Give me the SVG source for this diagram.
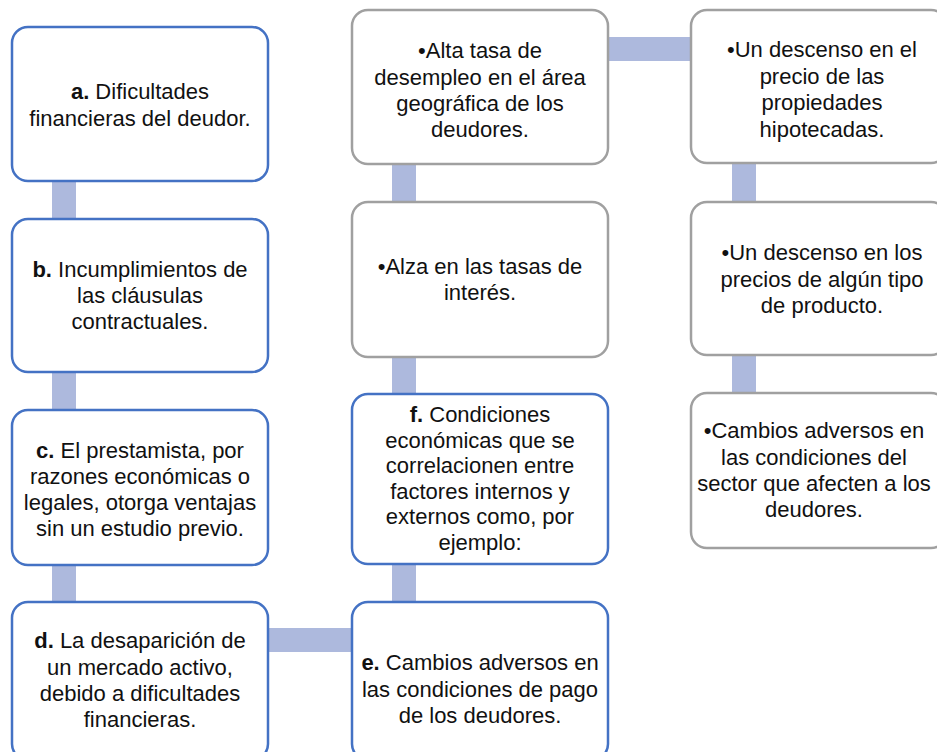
<svg xmlns="http://www.w3.org/2000/svg" width="937" height="752" viewBox="0 0 937 752">
<style>
.box{fill:#fff;stroke-width:2.5}
.blue{stroke:#4472C4}
.gray{stroke:#A0A0A0}
.bar{fill:#ADB9DD}
text{font-family:"Liberation Sans",Arial,sans-serif;font-size:22px;fill:#111;text-anchor:middle}
.b{font-weight:bold}
</style>
<rect width="937" height="752" fill="#fff"/>
<g id="connectors">
<rect class="bar" x="52" y="178" width="24" height="44"/>
<rect class="bar" x="52" y="369" width="24" height="44"/>
<rect class="bar" x="52" y="562" width="24" height="43"/>
<rect class="bar" x="265" y="628" width="90" height="24"/>
<rect class="bar" x="392" y="561" width="24" height="44"/>
<rect class="bar" x="392" y="354" width="24" height="43"/>
<rect class="bar" x="392" y="161" width="24" height="44"/>
<rect class="bar" x="605" y="37" width="89" height="24"/>
<rect class="bar" x="732" y="160" width="24" height="45"/>
<rect class="bar" x="732" y="352" width="24" height="44"/>
</g>
<g id="node-a">
<rect class="box blue" x="12" y="27" width="256" height="154" rx="16"/>
<text x="140" y="99"><tspan class="b">a.</tspan> Dificultades</text>
<text x="140" y="126">financieras del deudor.</text>
</g>
<g id="node-b">
<rect class="box blue" x="12" y="219" width="256" height="153" rx="16"/>
<text x="140" y="277"><tspan class="b">b.</tspan> Incumplimientos de</text>
<text x="140" y="303">las cláusulas</text>
<text x="140" y="329">contractuales.</text>
</g>
<g id="node-c">
<rect class="box blue" x="12" y="410" width="256" height="155" rx="16"/>
<text x="140" y="458"><tspan class="b">c.</tspan> El prestamista, por</text>
<text x="140" y="484">razones económicas o</text>
<text x="140" y="510">legales, otorga ventajas</text>
<text x="140" y="536">sin un estudio previo.</text>
</g>
<g id="node-d">
<rect class="box blue" x="12" y="602" width="256" height="158" rx="16"/>
<text x="140" y="648"><tspan class="b">d.</tspan> La desaparición de</text>
<text x="140" y="675">un mercado activo,</text>
<text x="140" y="701">debido a dificultades</text>
<text x="140" y="727">financieras.</text>
</g>
<g id="node-e">
<rect class="box blue" x="352" y="602" width="256" height="158" rx="16"/>
<text x="480" y="670"><tspan class="b">e.</tspan> Cambios adversos en</text>
<text x="480" y="697">las condiciones de pago</text>
<text x="480" y="723">de los deudores.</text>
</g>
<g id="node-f">
<rect class="box blue" x="352" y="394" width="256" height="170" rx="16"/>
<text x="480" y="422"><tspan class="b">f.</tspan> Condiciones</text>
<text x="480" y="448">económicas que se</text>
<text x="480" y="473">correlacionen entre</text>
<text x="480" y="499">factores internos y</text>
<text x="480" y="524">externos como, por</text>
<text x="480" y="550">ejemplo:</text>
</g>
<g id="node-alza">
<rect class="box gray" x="352" y="202" width="256" height="155" rx="16"/>
<text x="480" y="274">•Alza en las tasas de</text>
<text x="480" y="300">interés.</text>
</g>
<g id="node-desempleo">
<rect class="box gray" x="352" y="10" width="256" height="154" rx="16"/>
<text x="480" y="58">•Alta tasa de</text>
<text x="480" y="85">desempleo en el área</text>
<text x="480" y="111">geográfica de los</text>
<text x="480" y="137">deudores.</text>
</g>
<g id="node-propiedades">
<rect class="box gray" x="691" y="10" width="256" height="153" rx="16"/>
<text x="822" y="57">•Un descenso en el</text>
<text x="822" y="84">precio de las</text>
<text x="822" y="110">propiedades</text>
<text x="822" y="137">hipotecadas.</text>
</g>
<g id="node-producto">
<rect class="box gray" x="691" y="202" width="256" height="153" rx="16"/>
<text x="822" y="260">•Un descenso en los</text>
<text x="822" y="287">precios de algún tipo</text>
<text x="822" y="313">de producto.</text>
</g>
<g id="node-sector">
<rect class="box gray" x="691" y="393" width="256" height="155" rx="16"/>
<text x="814" y="438">•Cambios adversos en</text>
<text x="814" y="465">las condiciones del</text>
<text x="814" y="491">sector que afecten a los</text>
<text x="814" y="517">deudores.</text>
</g>
</svg>
